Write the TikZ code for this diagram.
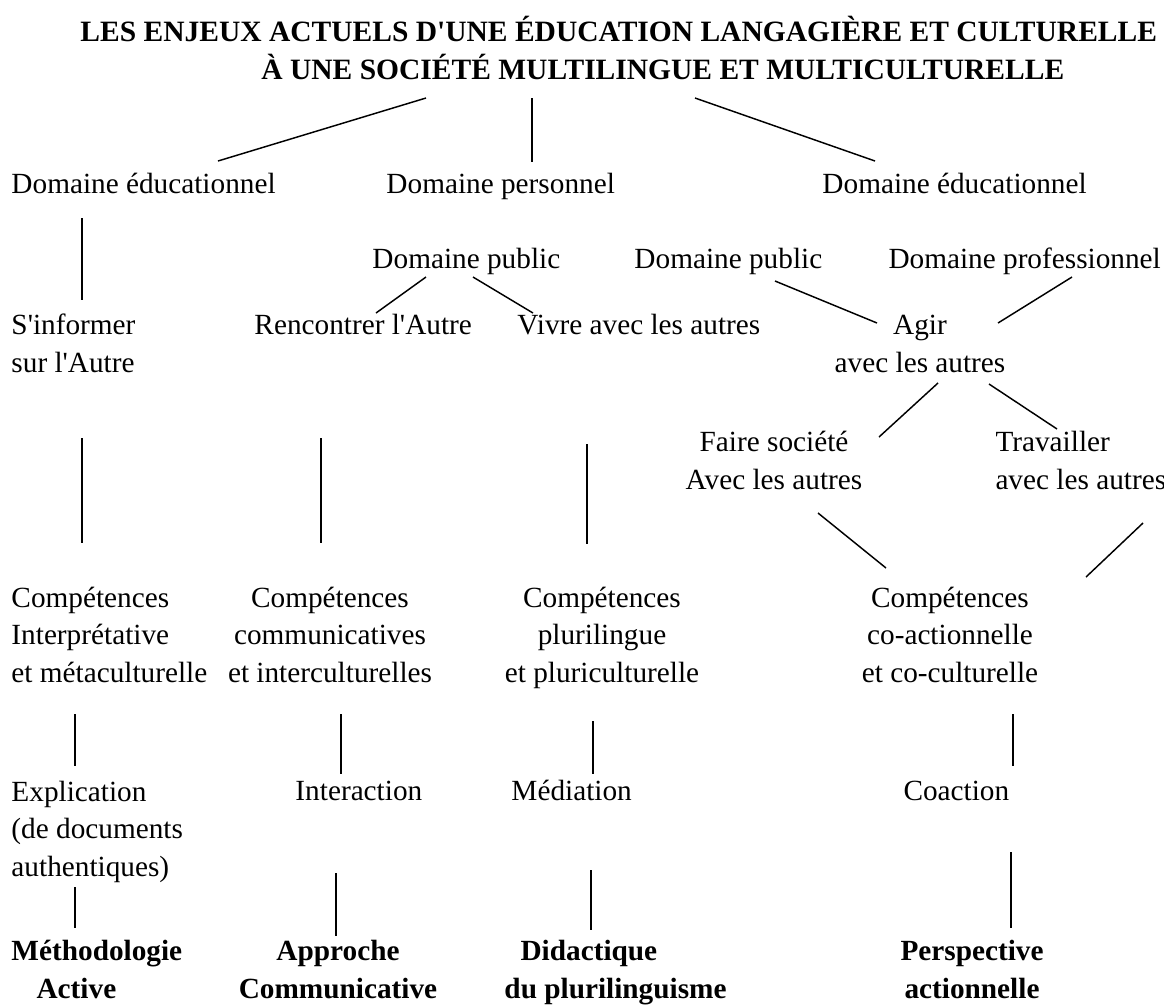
\documentclass[tikz,border=0pt]{standalone}
\usepackage{fontspec}
\setmainfont{Liberation Serif}[Ligatures=TeXOff]
\begin{document}
\begin{tikzpicture}[
        x=0.41pt, y=-0.41pt,
        texte/.style={
            inner sep=0pt,
            anchor=base west,
            align=left,
            font=\fontsize{12}{15.2}\selectfont
        },
        centre/.style={texte, anchor=base, align=center},
        gras/.style={texte, font=\fontsize{12}{15.2}\selectfont\bfseries},
        grascentre/.style={gras, anchor=base, align=center},
        trait/.style={line width=0.6pt}
    ]
        \useasboundingbox (0,0) rectangle (1164,1004);

        % titre (ancre sur la dernière ligne)
        \node[gras, font=\fontsize{12.1}{15.2}\selectfont\bfseries] (titre) at (80,79)
        {LES ENJEUX ACTUELS D'UNE ÉDUCATION LANGAGIÈRE ET CULTURELLE\\
        \hspace*{74.2pt}À UNE SOCIÉTÉ MULTILINGUE ET MULTICULTURELLE};

        % domaines
        \node[texte] (educ1) at (11,193) {Domaine éducationnel};
        \node[texte] (perso) at (386,193) {Domaine personnel};
        \node[texte] (educ2) at (822,193) {Domaine éducationnel};
        \node[texte] (public1) at (372,268) {Domaine public};
        \node[texte] (public2) at (634,268) {Domaine public};
        \node[texte] (profes) at (888,268) {Domaine professionnel};

        % enjeux
        \node[texte] (informer) at (11,372) {S'informer\\sur l'Autre};
        \node[texte] (rencontrer) at (254,334) {Rencontrer l'Autre};
        \node[texte] (vivre) at (517,334) {Vivre avec les autres};
        \node[centre] (agir) at (920,372) {Agir\\avec les autres};
        \node[centre] (faire) at (774,489) {Faire société\\Avec les autres};
        \node[texte] (travailler) at (995,489) {Travailler\\avec les autres};

        % compétences
        \node[texte] (comp1) at (11,682)
        {Compétences\\Interprétative\\et métaculturelle};
        \node[centre] (comp2) at (330,682)
        {Compétences\\communicatives\\et interculturelles};
        \node[centre] (comp3) at (602,682)
        {Compétences\\plurilingue\\et pluriculturelle};
        \node[centre] (comp4) at (950,682)
        {Compétences\\co-actionnelle\\et co-culturelle};

        % activités
        \node[texte] (explication) at (11,876)
        {Explication\\(de documents\\authentiques)};
        \node[texte] (interaction) at (295,800) {Interaction};
        \node[texte] (mediation) at (511,800) {Médiation};
        \node[texte] (coaction) at (903,800) {Coaction};

        % méthodologies
        \node[gras] (methodo) at (11,998)
        {Méthodologie\\\hspace*{10.3pt}Active};
        \node[grascentre] (approche) at (338,998)
        {Approche\\Communicative};
        \node[gras] (didactique) at (504,998)
        {\hspace*{6.6pt}Didactique\\du plurilinguisme};
        \node[grascentre] (perspective) at (972,998)
        {Perspective\\actionnelle};

        % extrémités des traits
        \coordinate (t1a) at (426,98);   \coordinate (t1b) at (218,161);
        \coordinate (t2a) at (532,98);   \coordinate (t2b) at (532,162);
        \coordinate (t3a) at (695,98);   \coordinate (t3b) at (875,161);
        \coordinate (v1a) at (82,218);   \coordinate (v1b) at (82,300);
        \coordinate (p1a) at (426,277);  \coordinate (p1b) at (376,313);
        \coordinate (p2a) at (473,277);  \coordinate (p2b) at (533,313);
        \coordinate (p3a) at (775,281);  \coordinate (p3b) at (877,323);
        \coordinate (p4a) at (1072,277); \coordinate (p4b) at (998,323);
        \coordinate (a1a) at (938,383);  \coordinate (a1b) at (879,437);
        \coordinate (a2a) at (989,384);  \coordinate (a2b) at (1057,429);
        \coordinate (c1a) at (82,438);   \coordinate (c1b) at (82,543);
        \coordinate (c2a) at (321,438);  \coordinate (c2b) at (321,543);
        \coordinate (c3a) at (587,444);  \coordinate (c3b) at (587,544);
        \coordinate (f1a) at (818,513);  \coordinate (f1b) at (886,568);
        \coordinate (f2a) at (1143,523); \coordinate (f2b) at (1086,577);
        \coordinate (e1a) at (75,714);   \coordinate (e1b) at (75,766);
        \coordinate (e2a) at (341,714);  \coordinate (e2b) at (341,774);
        \coordinate (e3a) at (593,721);  \coordinate (e3b) at (593,774);
        \coordinate (e4a) at (1013,714); \coordinate (e4b) at (1013,766);
        \coordinate (m1a) at (75,887);   \coordinate (m1b) at (75,928);
        \coordinate (m2a) at (336,873);  \coordinate (m2b) at (336,936);
        \coordinate (m3a) at (591,870);  \coordinate (m3b) at (591,930);
        \coordinate (m4a) at (1011,852); \coordinate (m4b) at (1011,928);

        % traits
        \draw[trait] (t1a) -- (t1b);
        \draw[trait] (t2a) -- (t2b);
        \draw[trait] (t3a) -- (t3b);
        \draw[trait] (v1a) -- (v1b);
        \draw[trait] (p1a) -- (p1b);
        \draw[trait] (p2a) -- (p2b);
        \draw[trait] (p3a) -- (p3b);
        \draw[trait] (p4a) -- (p4b);
        \draw[trait] (a1a) -- (a1b);
        \draw[trait] (a2a) -- (a2b);
        \draw[trait] (c1a) -- (c1b);
        \draw[trait] (c2a) -- (c2b);
        \draw[trait] (c3a) -- (c3b);
        \draw[trait] (f1a) -- (f1b);
        \draw[trait] (f2a) -- (f2b);
        \draw[trait] (e1a) -- (e1b);
        \draw[trait] (e2a) -- (e2b);
        \draw[trait] (e3a) -- (e3b);
        \draw[trait] (e4a) -- (e4b);
        \draw[trait] (m1a) -- (m1b);
        \draw[trait] (m2a) -- (m2b);
        \draw[trait] (m3a) -- (m3b);
        \draw[trait] (m4a) -- (m4b);
    \end{tikzpicture}
\end{document}
